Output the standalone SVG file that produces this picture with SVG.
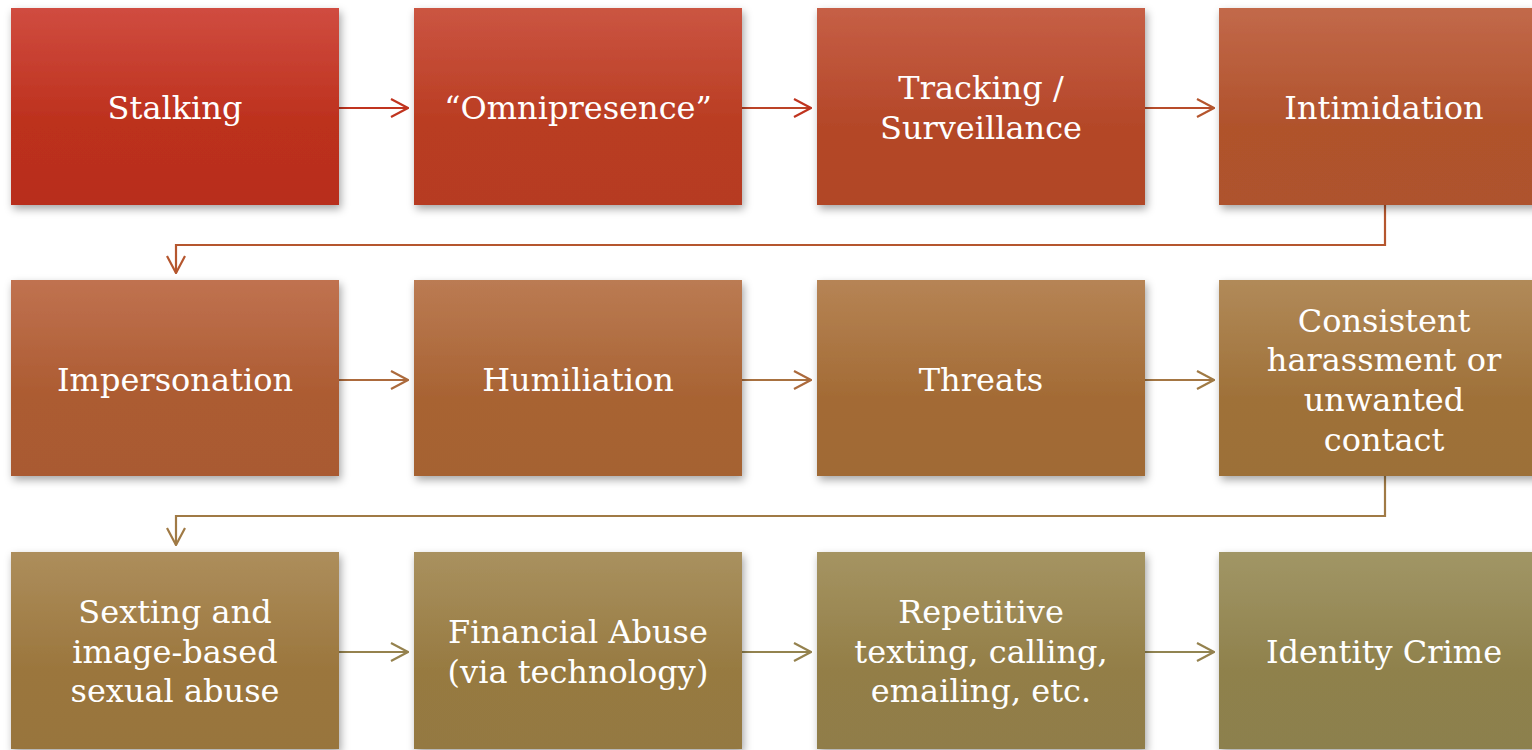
<svg xmlns="http://www.w3.org/2000/svg" width="1532" height="750" viewBox="0 0 1532 750">
<style>
text{font-family:"DejaVu Serif","Liberation Serif",serif;font-size:32px;fill:#fff;text-anchor:middle}
.c{fill:none;stroke-width:2.2}
</style>
<defs>
<filter id="sh" x="-10%" y="-10%" width="125%" height="130%">
<feDropShadow dx="2" dy="4" stdDeviation="4" flood-color="#000" flood-opacity="0.35"/>
</filter>
<linearGradient id="g1" x1="0" y1="0" x2="0" y2="1"><stop offset="0" stop-color="#D04C40"/><stop offset="0.6" stop-color="#BC301C"/><stop offset="1" stop-color="#B82E1B"/></linearGradient>
<linearGradient id="g2" x1="0" y1="0" x2="0" y2="1"><stop offset="0" stop-color="#CB5542"/><stop offset="0.6" stop-color="#B93C21"/><stop offset="1" stop-color="#B63B21"/></linearGradient>
<linearGradient id="g3" x1="0" y1="0" x2="0" y2="1"><stop offset="0" stop-color="#C65F46"/><stop offset="0.6" stop-color="#B44728"/><stop offset="1" stop-color="#B14628"/></linearGradient>
<linearGradient id="g4" x1="0" y1="0" x2="0" y2="1"><stop offset="0" stop-color="#C2694A"/><stop offset="0.6" stop-color="#B0522C"/><stop offset="1" stop-color="#AE522D"/></linearGradient>
<linearGradient id="g5" x1="0" y1="0" x2="0" y2="1"><stop offset="0" stop-color="#C07250"/><stop offset="0.6" stop-color="#AC5B31"/><stop offset="1" stop-color="#A95A30"/></linearGradient>
<linearGradient id="g6" x1="0" y1="0" x2="0" y2="1"><stop offset="0" stop-color="#BB7B53"/><stop offset="0.6" stop-color="#A86333"/><stop offset="1" stop-color="#A56233"/></linearGradient>
<linearGradient id="g7" x1="0" y1="0" x2="0" y2="1"><stop offset="0" stop-color="#B68455"/><stop offset="0.6" stop-color="#A36B35"/><stop offset="1" stop-color="#A06B36"/></linearGradient>
<linearGradient id="g8" x1="0" y1="0" x2="0" y2="1"><stop offset="0" stop-color="#B18A59"/><stop offset="0.6" stop-color="#9F7139"/><stop offset="1" stop-color="#9C7039"/></linearGradient>
<linearGradient id="g9" x1="0" y1="0" x2="0" y2="1"><stop offset="0" stop-color="#AD8E5C"/><stop offset="0.6" stop-color="#9B763D"/><stop offset="1" stop-color="#98753E"/></linearGradient>
<linearGradient id="g10" x1="0" y1="0" x2="0" y2="1"><stop offset="0" stop-color="#A9915F"/><stop offset="0.6" stop-color="#977A41"/><stop offset="1" stop-color="#947942"/></linearGradient>
<linearGradient id="g11" x1="0" y1="0" x2="0" y2="1"><stop offset="0" stop-color="#A59462"/><stop offset="0.6" stop-color="#937E47"/><stop offset="1" stop-color="#907D48"/></linearGradient>
<linearGradient id="g12" x1="0" y1="0" x2="0" y2="1"><stop offset="0" stop-color="#A19666"/><stop offset="0.6" stop-color="#8F814C"/><stop offset="1" stop-color="#8C804D"/></linearGradient>
<marker id="a1" viewBox="0 0 20 20" refX="19" refY="10" markerWidth="20" markerHeight="20" markerUnits="userSpaceOnUse" orient="auto"><path d="M2,1 L19,10 L2,19" fill="none" stroke="#C0341F" stroke-width="2.2"/></marker>
<marker id="a2" viewBox="0 0 20 20" refX="19" refY="10" markerWidth="20" markerHeight="20" markerUnits="userSpaceOnUse" orient="auto"><path d="M2,1 L19,10 L2,19" fill="none" stroke="#B5562E" stroke-width="2.2"/></marker>
<marker id="a3" viewBox="0 0 20 20" refX="19" refY="10" markerWidth="20" markerHeight="20" markerUnits="userSpaceOnUse" orient="auto"><path d="M2,1 L19,10 L2,19" fill="none" stroke="#AC6A3C" stroke-width="2.2"/></marker>
<marker id="a4" viewBox="0 0 20 20" refX="19" refY="10" markerWidth="20" markerHeight="20" markerUnits="userSpaceOnUse" orient="auto"><path d="M2,1 L19,10 L2,19" fill="none" stroke="#A07A45" stroke-width="2.2"/></marker>
<marker id="a5" viewBox="0 0 20 20" refX="19" refY="10" markerWidth="20" markerHeight="20" markerUnits="userSpaceOnUse" orient="auto"><path d="M2,1 L19,10 L2,19" fill="none" stroke="#95824E" stroke-width="2.2"/></marker>
</defs>
<g id="connectors">
<path class="c" stroke="#C0341F" d="M339,108 H408" marker-end="url(#a1)"/>
<path class="c" stroke="#BC4326" d="M742,108 H811" marker-end="url(#a1)"/>
<path class="c" stroke="#B84C2A" d="M1145,108 H1214" marker-end="url(#a2)"/>
<path class="c" stroke="#B5562E" d="M1385,205 V245 H176 V273" marker-end="url(#a2)"/>
<path class="c" stroke="#AC6A3C" d="M339,380 H408" marker-end="url(#a3)"/>
<path class="c" stroke="#A87140" d="M742,380 H811" marker-end="url(#a3)"/>
<path class="c" stroke="#A47643" d="M1145,380 H1214" marker-end="url(#a4)"/>
<path class="c" stroke="#A07A45" d="M1385,476 V516 H176 V545" marker-end="url(#a4)"/>
<path class="c" stroke="#95824E" d="M339,652 H408" marker-end="url(#a5)"/>
<path class="c" stroke="#93834F" d="M742,652 H811" marker-end="url(#a5)"/>
<path class="c" stroke="#918451" d="M1145,652 H1214" marker-end="url(#a5)"/>
</g>
<g id="n1"><rect x="11" y="8" width="328" height="197" fill="url(#g1)" filter="url(#sh)"/><text x="175" y="119">Stalking</text></g>
<g id="n2"><rect x="414" y="8" width="328" height="197" fill="url(#g2)" filter="url(#sh)"/><text x="578" y="119">“Omnipresence”</text></g>
<g id="n3"><rect x="817" y="8" width="328" height="197" fill="url(#g3)" filter="url(#sh)"/><text x="981" y="99">Tracking /</text><text x="981" y="139">Surveillance</text></g>
<g id="n4"><rect x="1219" y="8" width="328" height="197" fill="url(#g4)" filter="url(#sh)"/><text x="1384" y="119">Intimidation</text></g>
<g id="n5"><rect x="11" y="280" width="328" height="196" fill="url(#g5)" filter="url(#sh)"/><text x="175" y="391">Impersonation</text></g>
<g id="n6"><rect x="414" y="280" width="328" height="196" fill="url(#g6)" filter="url(#sh)"/><text x="578" y="391">Humiliation</text></g>
<g id="n7"><rect x="817" y="280" width="328" height="196" fill="url(#g7)" filter="url(#sh)"/><text x="981" y="391">Threats</text></g>
<g id="n8"><rect x="1219" y="280" width="328" height="196" fill="url(#g8)" filter="url(#sh)"/><text x="1384" y="332">Consistent</text><text x="1384" y="371">harassment or</text><text x="1384" y="411">unwanted</text><text x="1384" y="451">contact</text></g>
<g id="n9"><rect x="11" y="552" width="328" height="197" fill="url(#g9)" filter="url(#sh)"/><text x="175" y="623">Sexting and</text><text x="175" y="663">image-based</text><text x="175" y="702">sexual abuse</text></g>
<g id="n10"><rect x="414" y="552" width="328" height="197" fill="url(#g10)" filter="url(#sh)"/><text x="578" y="643">Financial Abuse</text><text x="578" y="683">(via technology)</text></g>
<g id="n11"><rect x="817" y="552" width="328" height="197" fill="url(#g11)" filter="url(#sh)"/><text x="981" y="623">Repetitive</text><text x="981" y="663">texting, calling,</text><text x="981" y="702">emailing, etc.</text></g>
<g id="n12"><rect x="1219" y="552" width="328" height="197" fill="url(#g12)" filter="url(#sh)"/><text x="1384" y="663">Identity Crime</text></g>
</svg>
